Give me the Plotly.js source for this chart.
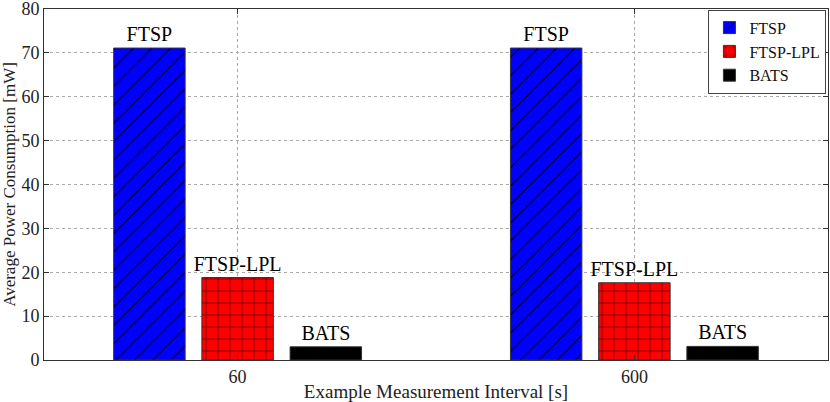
<!DOCTYPE html>
<html>
<head>
<meta charset="utf-8">
<script src="https://cdn.plot.ly/plotly-3.0.1.min.js"></script>
<style>
  html, body { margin: 0; padding: 0; background: white; }
  #chart { width: 830px; height: 402px; }
</style>
</head>
<body>
<div id="chart"></div>
<script>
// measurement intervals [s]
const intervals = ['60', '600'];

// average power consumption [mW]
const ftsp = [71.1, 71.1];
const ftspLpl = [18.8, 17.6];
const bats = [3.0, 3.1];

const seriesNames = ['FTSP', 'FTSP-LPL', 'BATS'];
const yTicks = [0, 10, 20, 30, 40, 50, 60, 70, 80];

const serif = 'Liberation Serif, Times New Roman, serif';

const makeBar = (name, values, color, pattern) => ({
  type: 'bar',
  name: name,
  x: intervals,
  y: values,
  text: values.map(() => name),
  textposition: 'outside',
  constraintext: 'none',
  cliponaxis: false,
  textfont: { family: serif, size: 20, color: 'black' },
  marker: {
    color: color,
    line: { color: '#333', width: 1 },
    pattern: pattern
  },
  hoverinfo: 'x+y+name'
});

const traces = [
  makeBar(seriesNames[0], ftsp, '#0000ff',
    { shape: '/', fgcolor: 'black', bgcolor: '#0000ff', size: 13, solidity: 0.08 }),
  makeBar(seriesNames[1], ftspLpl, '#ff0000',
    { shape: '+', fgcolor: 'black', bgcolor: '#ff0000', size: 12, solidity: 0.08 }),
  makeBar(seriesNames[2], bats, '#000000', { shape: '' })
];

const layout = {
  width: 830,
  height: 402,
  margin: { t: 9, r: 2, b: 42, l: 44 },
  barmode: 'group',
  bargap: 0.333,
  bargroupgap: 0.19,
  plot_bgcolor: 'white',
  paper_bgcolor: 'white',
  font: { family: serif, size: 18, color: '#222' },
  xaxis: {
    type: 'category',
    range: [-0.488, 1.488],
    title: { text: 'Example Measurement Interval [s]', font: { family: serif, size: 19 }, standoff: 4 },
    showgrid: true,
    gridcolor: '#aaa',
    griddash: 'dot',
    gridwidth: 1,
    showline: true,
    linecolor: '#333',
    linewidth: 1,
    mirror: 'ticks',
    ticks: 'inside',
    ticklen: 5,
    tickcolor: '#333',
    tickfont: { family: serif, size: 18 },
    zeroline: false
  },
  yaxis: {
    range: [0, 80],
    tickmode: 'array',
    tickvals: yTicks,
    ticktext: yTicks.map(String),
    ticklabeloverflow: 'allow',
    title: { text: 'Average Power Consumption [mW]', font: { family: serif, size: 17 }, standoff: 2 },
    showgrid: true,
    gridcolor: '#aaa',
    griddash: 'dot',
    gridwidth: 1,
    showline: true,
    linecolor: '#333',
    linewidth: 1,
    mirror: 'ticks',
    ticks: 'inside',
    ticklen: 5,
    tickcolor: '#333',
    tickfont: { family: serif, size: 18 },
    zeroline: false
  },
  showlegend: true,
  legend: {
    x: 0.998,
    y: 0.998,
    xanchor: 'right',
    yanchor: 'top',
    bgcolor: 'white',
    bordercolor: '#444',
    borderwidth: 1,
    font: { family: serif, size: 16, color: '#111' },
    tracegroupgap: 0,
    itemwidth: 30
  }
};

Plotly.newPlot('chart', traces, layout, { displayModeBar: false, staticPlot: true });
</script>
</body>
</html>
